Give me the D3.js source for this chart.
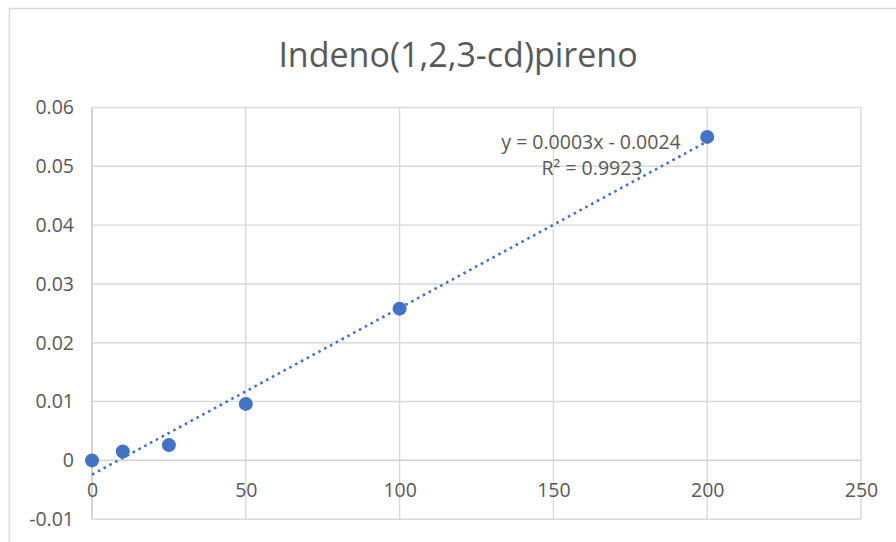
<!DOCTYPE html>
<html>
<head>
<meta charset="utf-8">
<script src="https://cdn.jsdelivr.net/npm/d3@7/dist/d3.min.js"></script>
<style>
  html, body { margin: 0; padding: 0; background: #fff; }
  svg { display: block; }
  text { font-family: "Open Sans", "DejaVu Sans", sans-serif; fill: #595959; }
</style>
</head>
<body>
<svg id="chart" width="896" height="542"></svg>
<script>
// ---- data ----
const chartTitle = "Indeno(1,2,3-cd)pireno";
const concentrations = [0, 10, 25, 50, 100, 200];
const responses = [0, 0.0015, 0.0026, 0.0096, 0.0258, 0.0550];
const xTicks = [0, 50, 100, 150, 200, 250];
const yTicks = [-0.01, 0, 0.01, 0.02, 0.03, 0.04, 0.05, 0.06];
const equationLines = ["y = 0.0003x - 0.0024", "R\u00B2 = 0.9923"];

// ---- layout ----
const W = 896, H = 542;
const plot = { left: 92, right: 861, top: 107.5, bottom: 519.2 };
const gridColor = "#d9d9d9";
const blue = "#4472C4";

const svg = d3.select("#chart");

// chart border (outer frame, partly cropped)
svg.append("rect")
  .attr("x", 9.5).attr("y", 8.5)
  .attr("width", 1000).attr("height", 700)
  .attr("fill", "#fff")
  .attr("stroke", gridColor).attr("stroke-width", 1.5);

const x = d3.scaleLinear().domain([0, 250]).range([plot.left, plot.right]);
const y = d3.scaleLinear().domain([-0.01, 0.06]).range([plot.bottom, plot.top]);

// gridlines
const grid = svg.append("g").attr("class", "grid");
grid.selectAll("line.h").data(yTicks).join("line")
  .attr("class", "h")
  .attr("x1", plot.left).attr("x2", plot.right)
  .attr("y1", d => y(d)).attr("y2", d => y(d))
  .attr("stroke", gridColor).attr("stroke-width", 1.4);
grid.selectAll("line.v").data(xTicks).join("line")
  .attr("class", "v")
  .attr("x1", d => x(d)).attr("x2", d => x(d))
  .attr("y1", plot.top).attr("y2", plot.bottom)
  .attr("stroke", gridColor).attr("stroke-width", 1.4);

// axis lines (x axis crosses at 0)
svg.append("line")
  .attr("x1", plot.left).attr("x2", plot.right)
  .attr("y1", y(0)).attr("y2", y(0))
  .attr("stroke", "#cfcfcf").attr("stroke-width", 1.4);
svg.append("line")
  .attr("x1", x(0)).attr("x2", x(0))
  .attr("y1", plot.top).attr("y2", plot.bottom)
  .attr("stroke", "#cfcfcf").attr("stroke-width", 1.4);

// y axis labels
const yAxis = d3.axisLeft(y).tickValues(yTicks).tickSize(0).tickPadding(18)
  .tickFormat(d => d === 0 ? "0" : d3.format(".2f")(d).replace("−", "-"));
const gy = svg.append("g").attr("transform", `translate(${plot.left},0)`).call(yAxis);
gy.select(".domain").remove();
gy.selectAll("text").style("font-size", "19.5px").attr("fill", "#595959");

// x axis labels
const xAxis = d3.axisBottom(x).tickValues(xTicks).tickSize(0).tickPadding(23).tickFormat(d3.format("d"));
const gx = svg.append("g").attr("transform", `translate(0,${y(0)})`).call(xAxis);
gx.select(".domain").remove();
gx.selectAll("text").style("font-size", "19.5px").attr("fill", "#595959");

// linear trendline (least squares fit of the data)
const n = concentrations.length;
const mx = d3.mean(concentrations), my = d3.mean(responses);
let sxy = 0, sxx = 0;
for (let i = 0; i < n; i++) {
  sxy += (concentrations[i] - mx) * (responses[i] - my);
  sxx += (concentrations[i] - mx) ** 2;
}
const slope = sxy / sxx, intercept = my - slope * mx;
const xMin = d3.min(concentrations), xMax = d3.max(concentrations);
const trend = [[xMin, intercept + slope * xMin], [xMax, intercept + slope * xMax]];
svg.append("path")
  .datum(trend)
  .attr("d", d3.line().x(d => x(d[0])).y(d => y(d[1])))
  .attr("fill", "none")
  .attr("stroke", blue)
  .attr("stroke-width", 2.6)
  .attr("stroke-dasharray", "2.6,4");

// markers
svg.append("g").selectAll("circle")
  .data(concentrations.map((c, i) => [c, responses[i]]))
  .join("circle")
  .attr("cx", d => x(d[0])).attr("cy", d => y(d[1]))
  .attr("r", 7)
  .attr("fill", blue);

// equation label
const eq = svg.append("text").attr("text-anchor", "middle").style("font-size", "19.5px");
eq.append("tspan").attr("x", 591).attr("y", 149).text(equationLines[0]);
eq.append("tspan").attr("x", 592).attr("y", 175).text(equationLines[1]);

// title
svg.append("text")
  .attr("x", 458).attr("y", 67)
  .attr("text-anchor", "middle")
  .style("font-size", "34px")
  .text(chartTitle);
</script>
</body>
</html>
